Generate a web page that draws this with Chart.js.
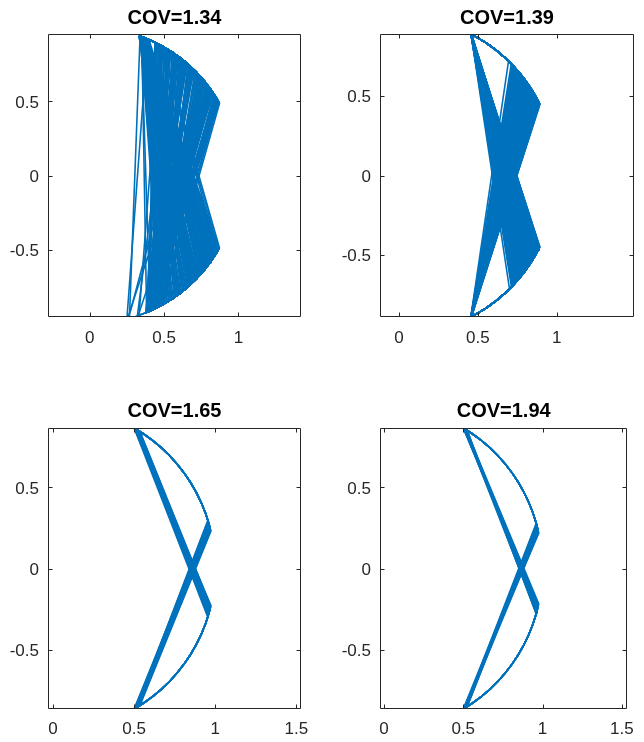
<!DOCTYPE html>
<html lang="en">
<head>
  <meta charset="UTF-8" />
  <title>COV panels</title>
  <style>
    body { margin: 0; background: #fff; }
    #wrap { position: relative; width: 644px; height: 742px; }
    #wrap canvas { position: absolute; }
  </style>
</head>
<body>
  <div id="wrap">
    <canvas id="p1" width="322" height="371" style="left:0;top:0"></canvas>
    <canvas id="p2" width="322" height="371" style="left:322px;top:0"></canvas>
    <canvas id="p3" width="322" height="371" style="left:0;top:371px"></canvas>
    <canvas id="p4" width="322" height="371" style="left:322px;top:371px"></canvas>
  </div>

  <script src="https://cdn.jsdelivr.net/npm/chart.js"></script>
  <script>
    // panel titles and axis ticks
    const titles = ['COV=1.34', 'COV=1.39', 'COV=1.65', 'COV=1.94'];
    const xTicksTop = [0, 0.5, 1];
    const xTicksBottom = [0, 0.5, 1, 1.5];
    const yTicks = [-0.5, 0, 0.5];
    const xRanges = [[-0.28, 1.42], [-0.12, 1.49], [-0.031, 1.529], [-0.025, 1.535]];
    const yRanges = [[-0.955, 0.955], [-0.89, 0.89], [-0.866, 0.866], [-0.866, 0.866]];

    // angles (deg) of the nodes used along the unit circle arcs
    const arcNodes = [-76, -72, -68, -64, -60, -56, -52, -48, -44, -40, -36, -32, -28, -24, -20, -16, -12, -8, -4, 0,
                      4, 8, 12, 16, 20, 24, 28, 32, 36, 40, 44, 48, 52, 56, 60, 64, 68, 72, 76];

    // each trace: [top, upper vertex, bottom, lower vertex] angles in degrees
    const traces134 = [
      [69.8, 29.2, 60.6, 30.4], [60.9, 29.6, 66.1, 29.3], [68.9, 30.3, 61.8, 41.7], [61.4, 31.1, 65.3, 30.0],
      [70.1, 31.8, 64.7, 47.6], [67.6, 32.6, 66.4, 35.2], [69.3, 33.4, 62.9, 53.8], [68.2, 34.1, 65.9, 31.6],
      [70.4, 34.9, 67.2, 44.3], [66.9, 35.7, 64.2, 58.1], [69.6, 36.4, 66.8, 33.9], [68.5, 37.2, 63.5, 49.2],
      [70.0, 38.0, 65.6, 38.8], [67.3, 38.7, 67.0, 61.0], [69.1, 39.5, 64.0, 32.7], [68.7, 40.3, 66.3, 45.9],
      [70.3, 41.0, 62.4, 36.6], [66.4, 41.8, 65.1, 55.4], [69.9, 42.6, 67.5, 40.2], [68.0, 43.3, 64.5, 30.9],
      [69.4, 44.1, 66.0, 51.3], [67.8, 44.9, 63.1, 42.8], [70.6, 45.6, 65.4, 34.5], [68.8, 46.4, 67.7, 59.6],
      [69.0, 47.2, 64.9, 37.4], [67.1, 47.9, 66.6, 48.0], [70.2, 48.7, 62.7, 31.3], [68.4, 49.5, 65.7, 56.9],
      [69.7, 50.2, 67.3, 39.6], [66.6, 51.0, 64.3, 46.5], [70.0, 51.8, 66.9, 33.2], [68.1, 52.5, 63.8, 62.2],
      [69.5, 53.3, 65.2, 43.5], [67.5, 54.1, 67.9, 35.8], [70.5, 54.8, 64.6, 52.7], [68.6, 55.6, 66.2, 29.8],
      [69.2, 56.4, 62.1, 41.1], [67.0, 57.1, 65.0, 57.8], [70.1, 57.9, 67.4, 37.9], [68.3, 58.7, 64.1, 50.6],
      [69.8, 59.4, 66.5, 44.9], [66.8, 60.2, 63.3, 32.2], [70.3, 61.0, 65.8, 60.3], [68.9, 61.7, 67.1, 39.0],
      [69.4, 62.5, 64.8, 54.5], [67.7, 63.3, 66.7, 46.8], [70.7, 30.0, 65.5, 50.0], [68.0, 32.2, 63.9, 38.3],
      [69.6, 35.3, 67.6, 55.9], [67.2, 37.6, 64.4, 42.1], [70.0, 40.7, 66.0, 61.6], [68.7, 43.7, 62.6, 35.5],
      [69.1, 46.0, 65.3, 47.1], [66.5, 49.1, 67.8, 31.9], [70.4, 52.1, 64.0, 58.6], [68.2, 55.2, 66.4, 40.7],
      [69.9, 58.3, 63.6, 49.7], [67.4, 60.6, 65.9, 36.2], [70.2, 63.7, 67.0, 53.1], [68.5, 31.4, 64.7, 63.0],
      [69.3, 36.9, 66.2, 43.9], [67.9, 42.2, 62.8, 57.2], [70.6, 47.5, 65.1, 34.9], [68.8, 53.7, 67.2, 48.8],
      [69.0, 59.0, 64.2, 30.6], [66.7, 64.0, 66.8, 51.9], [70.0, 33.8, 71.0, 45.3], [68.4, 56.8, 71.3, 62.6],
      [69.7, 39.1, 75.3, 66.0], [70.2, 45.2, 74.9, 74.5], [67.0, 62.0, 70.6, 35.0], [69.5, 50.9, 66.1, 67.5],
      [68.1, 38.4, 65.6, 59.0], [70.8, 44.5, 63.0, 44.0], [67.6, 49.8, 67.4, 33.0], [69.2, 54.4, 64.9, 54.0],
      [68.6, 34.6, 66.3, 49.0], [70.3, 41.5, 62.3, 39.8], [66.9, 57.6, 65.4, 61.3], [69.8, 60.9, 67.7, 46.2],
      [69.4, 29.9, 61.2, 35.6], [61.9, 30.7, 65.8, 38.1], [70.0, 32.9, 63.4, 51.0], [68.3, 35.9, 66.5, 29.5],
      [69.7, 37.9, 64.6, 46.3], [67.5, 40.0, 65.2, 61.9], [70.4, 42.0, 66.9, 34.1], [68.9, 44.6, 63.2, 41.4],
      [69.2, 46.8, 65.9, 57.0], [67.8, 48.3, 64.1, 37.0], [70.1, 50.6, 67.0, 45.1], [68.5, 52.9, 62.9, 30.2],
      [69.6, 55.0, 65.0, 52.3], [67.1, 57.4, 66.6, 42.6], [70.5, 59.8, 64.4, 33.6], [68.7, 62.2, 67.5, 56.4],
      [69.0, 31.2, 64.9, 44.7], [67.9, 34.3, 66.1, 58.9], [70.3, 36.2, 62.5, 39.3], [68.2, 39.8, 65.6, 48.4],
      [69.8, 41.2, 67.3, 31.0], [66.9, 43.0, 64.0, 54.9], [70.6, 45.9, 66.4, 38.5], [68.6, 47.7, 63.7, 47.3],
      [69.3, 50.0, 65.4, 60.8], [67.4, 51.4, 67.1, 36.8], [70.0, 53.9, 64.7, 43.2], [68.8, 56.1, 66.0, 50.9],
      [69.5, 58.5, 63.0, 32.5], [67.2, 61.4, 65.7, 55.0], [70.2, 62.9, 66.8, 40.0], [68.0, 30.8, 64.3, 53.4],
      [69.9, 33.1, 65.1, 59.8], [61.1, 30.1, 66.2, 31.1], [68.4, 38.0, 67.8, 47.0], [69.1, 40.9, 63.9, 36.0]
    ];
    // one stray path in the first panel, x/y pairs
    const extra134 = [[0.343, 0.940], [0.378, 0.770], [0.250, -0.970]];

    const traces139 = [
      [62.8, 26.6, 62.7, 31.2], [62.9, 27.4, 62.8, 38.5], [62.7, 28.1, 62.9, 27.0], [62.8, 29.0, 62.6, 42.8],
      [62.9, 29.8, 62.8, 33.6], [62.6, 30.5, 62.9, 28.4], [62.8, 31.3, 62.7, 36.9], [62.9, 32.0, 62.8, 29.7],
      [62.7, 32.9, 62.9, 40.6], [62.8, 33.5, 62.6, 26.8], [62.9, 34.4, 62.8, 35.2], [62.6, 35.1, 62.9, 30.3],
      [62.8, 35.9, 62.7, 43.7], [62.9, 36.6, 62.8, 32.4], [62.7, 37.4, 62.9, 27.9], [62.8, 38.2, 62.6, 39.1],
      [62.9, 38.9, 62.8, 34.0], [62.6, 39.7, 62.9, 41.5], [62.8, 40.4, 62.7, 28.9], [62.9, 41.2, 62.8, 37.6],
      [62.7, 42.0, 62.9, 31.8], [62.8, 42.9, 62.6, 44.2], [62.9, 43.8, 62.8, 36.1], [62.8, 44.6, 62.7, 30.9],
      [62.7, 27.0, 62.8, 40.0], [62.8, 28.6, 62.9, 35.7], [62.9, 30.1, 62.7, 27.4], [62.6, 31.8, 62.8, 42.1],
      [62.8, 33.1, 62.9, 29.2], [62.9, 34.8, 62.6, 38.0], [62.7, 36.3, 62.8, 26.9], [62.8, 37.9, 62.9, 33.1],
      [62.9, 39.3, 62.7, 43.0], [62.6, 41.0, 62.8, 32.0], [62.8, 42.5, 62.9, 39.8], [62.9, 43.3, 62.6, 28.2],
      [62.7, 29.4, 62.8, 37.2], [62.8, 35.5, 62.9, 41.0], [62.9, 40.8, 62.7, 34.6], [62.8, 27.8, 62.8, 45.5],
      [62.7, 46.0, 62.9, 29.5], [62.8, 26.9, 62.8, 34.3], [62.7, 28.4, 62.9, 43.4], [62.9, 30.8, 62.7, 29.0],
      [62.8, 32.6, 62.8, 39.4], [62.6, 34.1, 62.9, 27.6], [62.9, 35.7, 62.7, 41.8], [62.8, 37.0, 62.8, 31.5],
      [62.7, 38.6, 62.6, 36.5], [62.9, 40.1, 62.9, 26.7], [62.8, 41.6, 62.7, 40.3], [62.6, 43.0, 62.8, 33.3],
      [62.9, 44.1, 62.9, 38.8], [62.8, 26.8, 62.6, 42.5], [62.7, 31.0, 62.8, 35.9], [62.9, 33.8, 62.7, 30.1],
      [62.8, 36.8, 62.9, 44.0], [62.6, 39.9, 62.8, 28.7], [62.9, 42.2, 62.7, 37.0], [62.8, 28.9, 62.9, 32.8],
      [62.7, 34.9, 62.6, 43.1], [62.8, 27.2, 62.7, 36.4], [62.9, 29.9, 62.8, 41.3], [62.7, 32.3, 62.9, 27.2],
      [62.8, 34.6, 62.6, 33.9], [62.6, 36.9, 62.8, 39.6], [62.9, 39.0, 62.7, 29.9], [62.8, 41.4, 62.9, 35.0],
      [62.7, 43.6, 62.8, 42.6], [62.9, 28.2, 62.6, 30.6], [62.8, 31.6, 62.9, 44.5], [62.6, 35.3, 62.7, 32.1],
      [62.9, 38.4, 62.8, 37.9], [62.8, 40.0, 62.9, 27.8], [62.7, 42.8, 62.7, 41.7], [62.9, 33.3, 62.8, 34.8],
      [62.8, 37.5, 62.6, 30.5]
    ];

    const traces165 = [
      [60.0, 17.3, 59.2, 14.1], [59.6, 16.6, 58.1, 16.9], [59.1, 15.9, 60.0, 13.2], [58.7, 15.2, 57.8, 15.7],
      [58.2, 14.6, 59.5, 16.3], [57.7, 13.9, 58.6, 13.8], [59.8, 13.3, 57.6, 15.0], [58.9, 14.3, 59.9, 17.2],
      [58.4, 16.2, 58.9, 14.6], [57.6, 17.0, 59.1, 13.5], [59.4, 15.5, 58.3, 16.0], [60.0, 13.6, 57.9, 17.4]
    ];

    const traces194 = [
      [60.0, 16.2, 59.4, 13.6], [59.5, 15.6, 58.6, 15.9], [59.0, 14.9, 60.0, 12.9], [58.6, 14.2, 58.3, 14.8],
      [58.3, 13.4, 59.7, 16.1], [59.8, 12.8, 58.9, 14.2], [58.8, 15.9, 58.4, 12.6], [59.2, 13.8, 59.2, 15.4],
      [58.4, 12.6, 59.9, 16.3], [60.0, 14.6, 58.5, 13.3]
    ];

    const lineColor = '#0072BD';
    const axisColor = '#262626';
    const tickLen = 4;

    function toXY(deg) {
      const r = deg * Math.PI / 180;
      return { x: Math.cos(r), y: Math.sin(r) };
    }

    function arc(a, b) {
      const lo = Math.min(a, b), hi = Math.max(a, b);
      const mid = arcNodes.filter(d => d > lo && d < hi);
      if (a > b) mid.reverse();
      return [a, ...mid, b].map(toXY);
    }

    function tracePath(t) {
      const [top, up, bot, low] = t;
      return [...arc(top, up), ...arc(-bot, -low), toXY(top)];
    }

    function lineSet(points) {
      return {
        data: points,
        showLine: true,
        borderColor: lineColor,
        borderWidth: 1.6,
        pointRadius: 0,
        fill: false,
        clip: 0
      };
    }

    const boxTicks = {
      id: 'boxTicks',
      afterDatasetsDraw(chart) {
        const { ctx, chartArea: a, scales } = chart;
        const L = Math.round(a.left) + 0.5, R = Math.round(a.right) - 0.5;
        const T = Math.round(a.top) + 0.5, B = Math.round(a.bottom) - 0.5;
        ctx.save();
        ctx.strokeStyle = axisColor;
        ctx.lineWidth = 1;
        ctx.beginPath();
        ctx.rect(L, T, R - L, B - T);
        scales.x.ticks.forEach(t => {
          const px = Math.round(scales.x.getPixelForValue(t.value)) + 0.5;
          ctx.moveTo(px, B); ctx.lineTo(px, B - tickLen);
          ctx.moveTo(px, T); ctx.lineTo(px, T + tickLen);
        });
        scales.y.ticks.forEach(t => {
          const py = Math.round(scales.y.getPixelForValue(t.value)) + 0.5;
          ctx.moveTo(L, py); ctx.lineTo(L + tickLen, py);
          ctx.moveTo(R, py); ctx.lineTo(R - tickLen, py);
        });
        ctx.stroke();
        ctx.restore();
      }
    };

    const panels = [
      { id: 'p1', traces: traces134, extra: [extra134], xTicks: xTicksTop,
        pad: { left: 0, right: 21, top: 0, bottom: 0 }, yW: 48, xH: 54, tPad: { top: 6, bottom: 4 }, xLabelPad: 11 },
      { id: 'p2', traces: traces139, extra: [], xTicks: xTicksTop,
        pad: { left: 0, right: 10, top: 0, bottom: 0 }, yW: 58, xH: 54, tPad: { top: 6, bottom: 4 }, xLabelPad: 11 },
      { id: 'p3', traces: traces165, extra: [], xTicks: xTicksBottom,
        pad: { left: 0, right: 21, top: 23, bottom: 0 }, yW: 48, xH: 33, tPad: { top: 5, bottom: 5 }, xLabelPad: 10 },
      { id: 'p4', traces: traces194, extra: [], xTicks: xTicksBottom,
        pad: { left: 0, right: 11, top: 23, bottom: 0 }, yW: 58, xH: 33, tPad: { top: 5, bottom: 5 }, xLabelPad: 10 }
    ];

    const tickFont = { family: "'Liberation Sans', Arial, sans-serif", size: 17 };

    panels.forEach((p, i) => {
      const datasets = p.traces.map(t => lineSet(tracePath(t)))
        .concat(p.extra.map(path => lineSet(path.map(([x, y]) => ({ x, y })))));

      new Chart(document.getElementById(p.id), {
        type: 'scatter',
        data: { datasets },
        options: {
          responsive: false,
          animation: false,
          devicePixelRatio: 1,
          events: [],
          layout: { padding: p.pad },
          plugins: {
            legend: { display: false },
            tooltip: { enabled: false },
            title: {
              display: true,
              fullSize: false,
              text: titles[i],
              color: '#000',
              font: { family: "'Liberation Sans', Arial, sans-serif", size: 20, weight: 'bold' },
              padding: p.tPad
            }
          },
          scales: {
            x: {
              type: 'linear',
              min: xRanges[i][0],
              max: xRanges[i][1],
              afterBuildTicks: s => { s.ticks = p.xTicks.map(v => ({ value: v })); },
              afterFit: s => { s.height = p.xH; },
              grid: { display: false, drawTicks: false },
              border: { display: false },
              ticks: { color: axisColor, font: tickFont, padding: p.xLabelPad, maxRotation: 0, callback: v => String(v) }
            },
            y: {
              type: 'linear',
              min: yRanges[i][0],
              max: yRanges[i][1],
              afterBuildTicks: s => { s.ticks = yTicks.map(v => ({ value: v })); },
              afterFit: s => { s.width = p.yW; },
              grid: { display: false, drawTicks: false },
              border: { display: false },
              ticks: { color: axisColor, font: tickFont, padding: 9, labelOffset: 1.5, callback: v => String(v) }
            }
          }
        },
        plugins: [boxTicks]
      });
    });
  </script>
</body>
</html>
